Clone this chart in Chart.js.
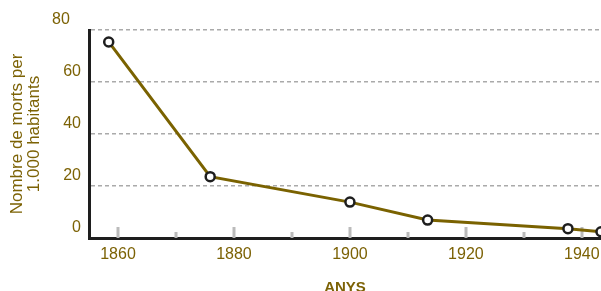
<!DOCTYPE html>
<html>
<head>
<meta charset="utf-8">
<script src="https://cdn.jsdelivr.net/npm/chart.js@4/dist/chart.umd.min.js"></script>
<style>
html,body{margin:0;padding:0;background:#fff;overflow:hidden;}
#wrap{width:601px;height:291px;}
canvas{display:block;}
</style>
</head>
<body>
<div id="wrap"><canvas id="c" width="601" height="291"></canvas></div>
<script>
// Data
const years = [1858.4, 1875.9, 1900, 1913.4, 1937.6, 1943.3];
const deaths = [75.4, 23.6, 13.8, 6.9, 3.6, 2.4];
const yTickValues = [0, 20, 40, 60, 80];
const xTickValues = [1860, 1880, 1900, 1920, 1940];
const xMinorTickValues = [1870, 1890, 1910, 1930];
const yTitleLines = ['Nombre de morts per', '1.000 habitants'];
const xTitle = 'ANYS';

const OLIVE = '#7a6200';
const TEXT = '#7c6205';
const FONT = "'Liberation Sans', Arial, Helvetica, sans-serif";

const tickMarks = {
  id: 'tickMarks',
  beforeDatasetsDraw(chart) {
    const ctx = chart.ctx;
    const xs = chart.scales.x;
    const bottom = chart.chartArea.bottom;
    ctx.save();
    ctx.strokeStyle = '#bbbbbb';
    ctx.lineWidth = 3;
    xTickValues.forEach(v => {
      const px = Math.round(xs.getPixelForValue(v));
      ctx.beginPath(); ctx.moveTo(px, bottom); ctx.lineTo(px, bottom - 11); ctx.stroke();
    });
    xMinorTickValues.forEach(v => {
      const px = Math.round(xs.getPixelForValue(v));
      ctx.beginPath(); ctx.moveTo(px, bottom); ctx.lineTo(px, bottom - 6); ctx.stroke();
    });
    ctx.restore();
  }
};

new Chart(document.getElementById('c'), {
  type: 'line',
  data: {
    datasets: [{
      data: years.map((y, i) => ({x: y, y: deaths[i]})),
      borderColor: OLIVE,
      borderWidth: 3,
      pointRadius: 4.5,
      pointBorderWidth: 2.5,
      pointBackgroundColor: '#ffffff',
      pointBorderColor: '#1e1e1e',
      tension: 0
    }]
  },
  options: {
    responsive: false,
    animation: false,
    events: [],
    layout: {autoPadding: false, padding: {top: 30, right: 0, left: 0, bottom: 0}},
    plugins: {legend: {display: false}, tooltip: {enabled: false}},
    scales: {
      x: {
        type: 'linear',
        min: 1855,
        max: 1943.3,
        afterBuildTicks: s => { s.ticks = xTickValues.map(v => ({value: v})); },
        afterFit: s => { s.height = 53; s.paddingLeft = 0; s.paddingRight = 0; },
        grid: {display: false, drawTicks: false},
        border: {display: true, color: '#1e1e1e', width: 3},
        ticks: {
          color: TEXT, font: {family: FONT, size: 16}, padding: 7,
          maxRotation: 0, autoSkip: false,
          callback: v => String(v)
        },
        title: {display: true, text: xTitle, color: TEXT,
          font: {family: FONT, size: 15, weight: 'bold'}, padding: {top: 0, bottom: -6}}
      },
      y: {
        min: 0,
        max: 80,
        afterBuildTicks: s => { s.ticks = yTickValues.map(v => ({value: v})); },
        afterFit: s => { s.width = 89; s.paddingTop = 0; s.paddingBottom = 0; },
        grid: {
          drawTicks: false,
          color: ctx => ctx.tick && ctx.tick.value === 0 ? 'rgba(0,0,0,0)' : '#aaaaaa',
          lineWidth: 1.5
        },
        border: {display: true, color: '#1e1e1e', width: 3, dash: [4, 3], dashOffset: 0},
        ticks: {color: TEXT, font: {family: FONT, size: 16}, padding: 8, labelOffset: -10,
          callback: v => v === 80 ? '80\u2002\u2009' : String(v)},
        title: {display: true, text: yTitleLines, color: TEXT,
          font: {family: FONT, size: 17, lineHeight: 1.05}, padding: {top: 8, bottom: 0}}
      }
    }
  },
  plugins: [tickMarks]
});
</script>
</body>
</html>
